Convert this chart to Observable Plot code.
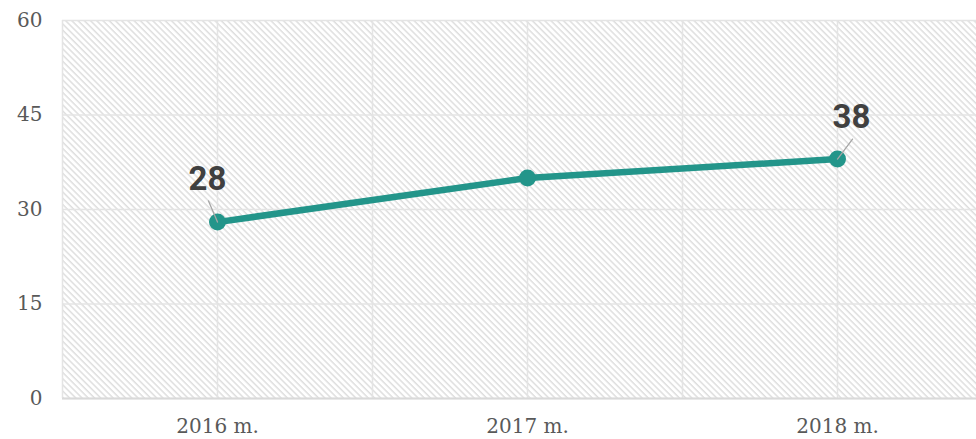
<!DOCTYPE html>
<html><head><meta charset="utf-8">
<script src="https://cdn.jsdelivr.net/npm/d3@7"></script>
<script src="https://cdn.jsdelivr.net/npm/@observablehq/plot@0.6"></script>
<style>body{margin:0;background:#fff}</style>
</head><body><div id="chart"></div>
<script>
const categories = ["2016 m.", "2017 m.", "2018 m."];
const values = [28, 35, 38];
const yTicks = [0, 15, 30, 45, 60];
const labeledIndex = [0, 2];

const points = categories.map((c, i) => ({i, cat: c, pos: i + 0.5, value: values[i]}));
const first = points.filter(d => d.i === labeledIndex[0]);
const last = points.filter(d => d.i === labeledIndex[1]);
const color = "#23958a";
const serif = "'DejaVu Serif', serif";

const leader = {
  draw(context, l) { context.moveTo(0, 0); context.lineTo(0, -l); }
};
const labelStyle = {x: "pos", y: "value", text: d => String(d.value), fontSize: 33, fontWeight: "bold",
  fontFamily: "Roboto, sans-serif", fill: "#404040", lineAnchor: "bottom", textAnchor: "middle"};
const leaderStyle = {x: "pos", y: "value", anchor: "start", shape: leader, stroke: "#a6a6a6", strokeWidth: 1.3};

const chart = Plot.plot({
  width: 976, height: 439,
  marginLeft: 62, marginRight: 0, marginTop: 20, marginBottom: 41,
  x: {type: "linear", domain: [0, categories.length], range: [62, 62 + 310 * categories.length]},
  y: {domain: [0, 60]},
  marks: [
    Plot.frame({fill: "url(#hatch)", stroke: null}),
    Plot.gridY(yTicks, {stroke: "#e4e4e4", strokeOpacity: 1, strokeWidth: 1.5}),
    Plot.gridX(d3.range(0, categories.length + 0.01, 0.5), {stroke: "#e4e4e4", strokeOpacity: 1, strokeWidth: 1.5}),
    Plot.ruleY([0], {stroke: "#d9d9d9", strokeWidth: 2}),
    Plot.axisY(yTicks, {tickSize: 0, tickPadding: 20, fontSize: 20, fontFamily: serif, fill: "#595959", label: null}),
    Plot.axisX(points.map(d => d.pos), {tickFormat: d => categories[Math.floor(d)], tickSize: 0, tickPadding: 20, fontSize: 20, fontFamily: serif, fill: "#595959", label: null}),
    Plot.line(points, {x: "pos", y: "value", stroke: color, strokeWidth: 6.5, strokeLinecap: "round", strokeLinejoin: "round"}),
    Plot.dot(points, {x: "pos", y: "value", r: 8.5, fill: color, stroke: null}),
    Plot.vector(first, {...leaderStyle, length: 23, rotate: -23}),
    Plot.vector(last, {...leaderStyle, length: 25, rotate: 37}),
    Plot.text(first, {...labelStyle, dx: -10, dy: -32}),
    Plot.text(last, {...labelStyle, dx: 14, dy: -31})
  ]
});
document.getElementById("chart").append(chart);

const ns = "http://www.w3.org/2000/svg";
const defs = document.createElementNS(ns, "defs");
defs.innerHTML = `<pattern id="hatch" patternUnits="userSpaceOnUse" width="4.4" height="4.4" patternTransform="rotate(-45)">
<rect width="4.4" height="4.4" fill="#ffffff"/>
<line x1="1" y1="0" x2="1" y2="4.4" stroke="#dadada" stroke-width="1.3"/></pattern>`;
chart.insertBefore(defs, chart.firstChild);
</script></body></html>
